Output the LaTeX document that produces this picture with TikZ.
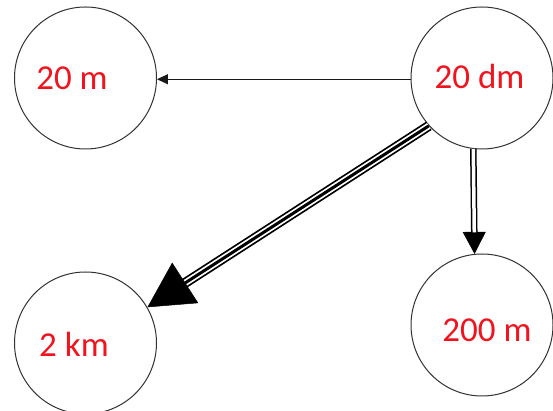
\documentclass[tikz,border=0pt]{standalone}
\usepackage{fontspec}
\setmainfont{Carlito}
\usetikzlibrary{arrows.meta}
\definecolor{txtred}{RGB}{240,20,30}
\begin{document}
\begin{tikzpicture}[x=1pt,y=1pt,
  ring/.style={circle, draw=black!80, line width=1pt, minimum size=142pt, inner sep=0pt},
  lbl/.style={anchor=base, text=txtred, font=\fontsize{35}{42}\selectfont, inner sep=0pt},
  thinarrow/.style={line width=1pt, black!90, -{Triangle[length=11pt,width=10pt]}},
  dblline/.style={double=white, draw=black, line width=1.5pt, double distance=3.5pt},
  dbltip/.style={line width=0.5pt, -{Triangle[length=22pt,width=23pt]}},
  bigtip/.style={line width=0.5pt, -{Triangle[length=45pt,width=48pt]}}
]
\useasboundingbox (0,0) rectangle (553,411);
\fill[white] (0,0) rectangle (553,411);

\node[ring] (tl) at (85.5,333) {};
\node[ring] (tr) at (482,333) {};
\node[ring] (bl) at (85.5,68) {};
\node[ring] (br) at (482,86) {};

\node[lbl] (ttl) at (72,321) {20 m};
\node[lbl] (ttr) at (479.5,322) {20 dm};
\node[lbl] (tbl) at (74,54) {2 km};
\node[lbl] (tbr) at (487,69) {200 m};

% horizontal thin arrow
\draw[thinarrow] (tr.181) -- (tl.359);

% vertical double arrow
\draw[dbltip] (tr.263) -- (br.96.5);
\draw[dblline, shorten >=21.5pt] (tr.263) -- (br.96.5);

% diagonal triple arrow
\draw[line width=10pt, shorten >=42pt] (tr.222) -- (bl.30);
\draw[white, line width=6.5pt, shorten >=42pt] (tr.222) -- (bl.30);
\draw[line width=3pt, shorten >=42pt] (tr.222) -- (bl.30);
\draw[bigtip] (tr.222) -- (bl.30);
\end{tikzpicture}
\end{document}
